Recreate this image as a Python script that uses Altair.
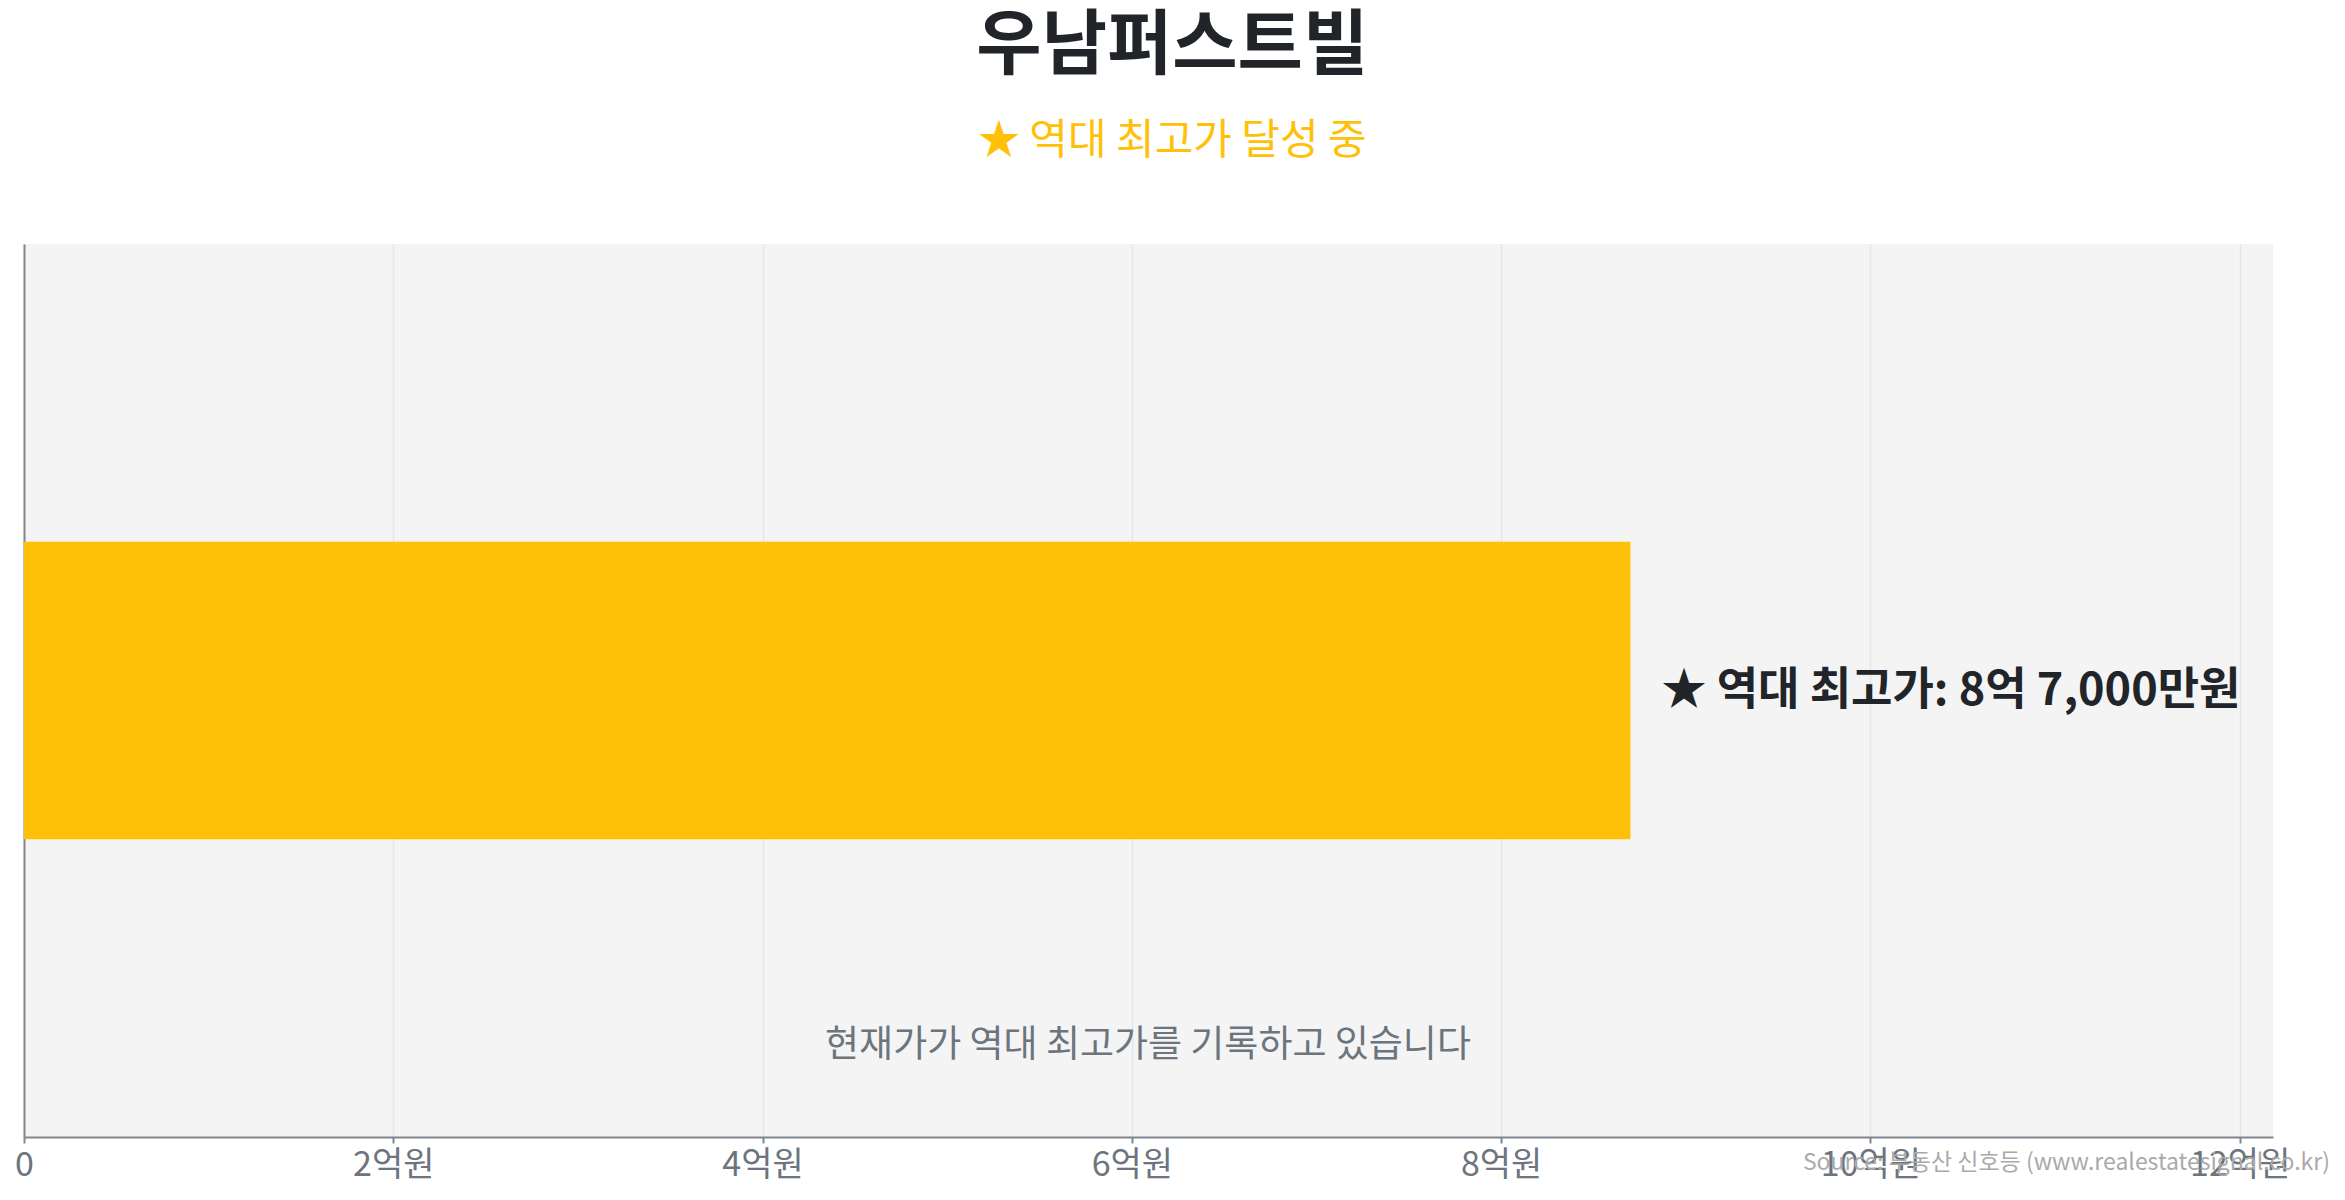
import altair as alt
import pandas as pd

# data (prices in 억원)
complex_names = ["우남퍼스트빌"]
record_high = [8.7]
record_labels = ["★ 역대 최고가: 8억 7,000만원"]
tick_values = [0, 2, 4, 6, 8, 10, 12]
x_max = 12.18

title_text = "우남퍼스트빌"
subtitle_text = "★ 역대 최고가 달성 중"
note_text = ["현재가가 역대 최고가를 기록하고 있습니다"]
source_text = ["Source: 부동산 신호등 (www.realestatesignal.co.kr)"]

FONT = "Noto Sans CJK KR"
AXIS_GREY = "#80878f"
W, H = 2249, 893

bars = pd.DataFrame({"name": complex_names, "price": record_high, "label": record_labels})

x_enc = alt.X(
    "price:Q",
    title=None,
    scale=alt.Scale(domain=[0, x_max], nice=False, zero=True),
    axis=alt.Axis(
        values=tick_values,
        labelExpr="datum.value == 0 ? '0' : datum.value + '억원'",
        labelFlush=False,
        labelFont=FONT,
        labelFontSize=34,
        labelColor="#6c757d",
        labelPadding=5,
        tickSize=6,
        tickWidth=2,
        tickColor=AXIS_GREY,
        domainColor=AXIS_GREY,
        domainWidth=2,
        grid=True,
        gridColor="#e6e6e6",
        gridWidth=1.5,
    ),
)
y_enc = alt.Y(
    "name:N",
    title=None,
    scale=alt.Scale(paddingInner=0, paddingOuter=1),
    axis=alt.Axis(labels=False, ticks=False, grid=False, domainColor=AXIS_GREY, domainWidth=2),
)

bar = alt.Chart(bars).mark_bar(color="#FFC107").encode(x=x_enc, y=y_enc)

label = (
    alt.Chart(bars)
    .mark_text(align="left", baseline="middle", dx=31, font=FONT, fontSize=45,
               fontWeight="bold", color="#212529")
    .encode(x=x_enc, y=y_enc, text="label:N")
)

note = (
    alt.Chart(pd.DataFrame({"note": note_text}))
    .mark_text(align="center", baseline="middle", font=FONT, fontSize=37, color="#6c757d")
    .encode(x=alt.value(1124), y=alt.value(802), text="note:N")
)

source = (
    alt.Chart(pd.DataFrame({"source": source_text}))
    .mark_text(align="right", baseline="alphabetic", font=FONT, fontSize=23, color="#aaaaaa")
    .encode(x=alt.value(W + 57), y=alt.value(926), text="source:N")
)

chart = (
    alt.layer(bar, label, note, source)
    .properties(
        width=W,
        height=H,
        padding={"left": 6, "top": 3, "right": 0, "bottom": 0},
        title=alt.TitleParams(
            text=title_text,
            subtitle=subtitle_text,
            anchor="middle",
            frame="bounds",
            font=FONT,
            fontSize=71,
            fontWeight="bold",
            color="#212529",
            subtitleFont=FONT,
            subtitleFontSize=42,
            subtitleColor="#FFC107",
            subtitlePadding=38,
            offset=81,
        ),
    )
    .configure_view(fill="#f4f4f4", strokeWidth=0)
)

chart.save("out.html", embed_options={"renderer": "svg", "actions": False})
